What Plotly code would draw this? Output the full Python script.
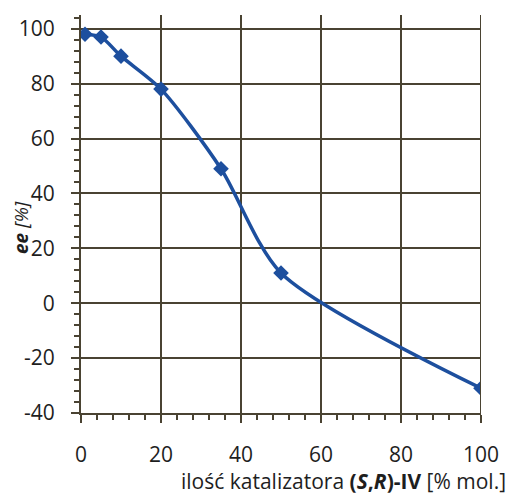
import plotly.graph_objects as go

catalyst = [1, 5, 10, 20, 35, 50, 100]
ee = [98, 97, 90, 78, 49, 11, -31]

x_ticks = [0, 20, 40, 60, 80, 100]
x_labels = ["0", "20", "40", "60", "80", "100"]
y_ticks = [-40, -20, 0, 20, 40, 60, 80, 100]
y_labels = ["-40", "-20", "0", "20", "40", "60", "80", "100"]

grid_col = "#4a4332"
line_col = "#1d4f9e"
text_col = "#1e1e1e"
font_fam = "Open Sans"

fig = go.Figure()
fig.add_trace(go.Scatter(
    x=catalyst, y=ee, mode="lines+markers",
    line=dict(color=line_col, width=3.5, shape="spline", smoothing=0.75),
    marker=dict(symbol="diamond", size=12, color=line_col),
    showlegend=False,
))

fig.update_layout(
    width=511, height=496,
    margin=dict(l=81, r=22, t=15, b=83),
    paper_bgcolor="white", plot_bgcolor="white",
    font=dict(family=font_fam, color=text_col, size=21),
    xaxis=dict(
        range=[0, 100], tickvals=x_ticks, ticktext=x_labels,
        showgrid=True, gridcolor=grid_col, gridwidth=2,
        showline=True, linecolor=grid_col, linewidth=2,
        ticks="outside", ticklen=8, tickwidth=2, tickcolor=grid_col,
        minor=dict(dtick=4, ticks="outside", ticklen=5, tickwidth=1.5, tickcolor=grid_col, showgrid=False),
        ticklabelstandoff=14, zeroline=False,
    ),
    yaxis=dict(
        range=[-40, 105], tickvals=y_ticks, ticktext=y_labels,
        showgrid=True, gridcolor=grid_col, gridwidth=2,
        showline=True, linecolor=grid_col, linewidth=2,
        ticks="outside", ticklen=8, tickwidth=2, tickcolor=grid_col,
        minor=dict(dtick=4, ticks="outside", ticklen=5, tickwidth=1.5, tickcolor=grid_col, showgrid=False),
        ticklabelstandoff=12, zeroline=False,
    ),
)

# right border gridline at x=100
fig.add_shape(type="line", xref="x", yref="paper", x0=100, x1=100, y0=0, y1=1,
              line=dict(color=grid_col, width=2))

fig.add_annotation(
    text="ilość katalizatora <b>(<i>S</i>,<i>R</i>)-IV</b> [% mol.]",
    xref="paper", yref="paper", x=1, y=0, xshift=27, yshift=-68,
    xanchor="right", yanchor="middle", showarrow=False,
    font=dict(family=font_fam, size=21, color=text_col),
)
fig.add_annotation(
    text="<b><i>ee</i></b><i> [%]</i>",
    xref="paper", yref="paper", x=0, y=0.5, xshift=-60, yshift=-14,
    xanchor="center", yanchor="middle", textangle=-90, showarrow=False,
    font=dict(family=font_fam, size=19, color=text_col),
)

fig.write_html("out.html")
